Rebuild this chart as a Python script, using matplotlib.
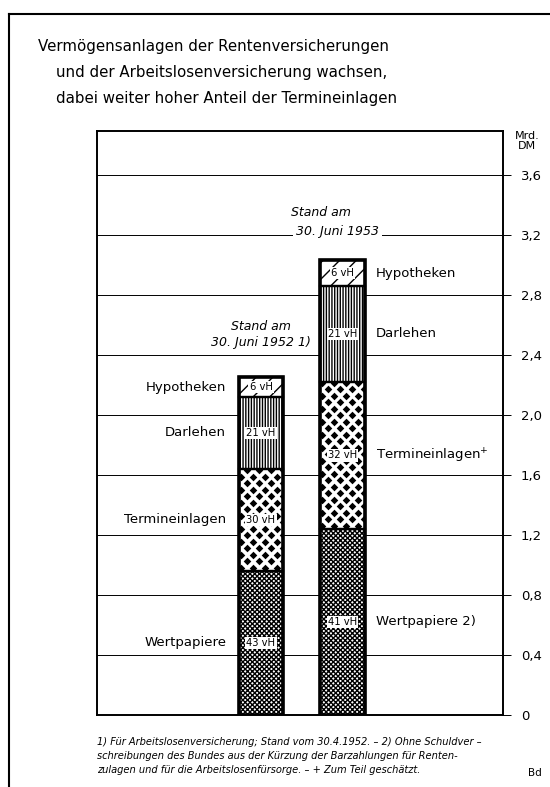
import matplotlib
matplotlib.use("Agg")
import matplotlib.pyplot as plt
from matplotlib.lines import Line2D
import numpy as np

# data (Mrd. DM), stacked bottom -> top
segments = ["Wertpapiere", "Termineinlagen", "Darlehen", "Hypotheken"]
stand_1952 = [0.96, 0.68, 0.48, 0.13]
stand_1953 = [1.24, 0.98, 0.64, 0.17]
pct_1952 = ["43 vH", "30 vH", "21 vH", "6 vH"]
pct_1953 = ["41 vH", "32 vH", "21 vH", "6 vH"]
labels_left = ["Wertpapiere", "Termineinlagen", "Darlehen", "Hypotheken"]
labels_right = ["Wertpapiere 2)", "Termineinlagen$^{+}$", "Darlehen", "Hypotheken"]
yticks = [0, 0.4, 0.8, 1.2, 1.6, 2.0, 2.4, 2.8, 3.2, 3.6]
ytick_labels = ["0", "0,4", "0,8", "1,2", "1,6", "2,0", "2,4", "2,8", "3,2", "3,6"]

hatches = {"Wertpapiere": "xxxxxxx", "Termineinlagen": None,
           "Darlehen": "||||||", "Hypotheken": "//"}

plt.rcParams["font.family"] = ["DejaVu Sans"]
plt.rcParams["hatch.linewidth"] = 1.0

fig = plt.figure(figsize=(5.5, 7.87), dpi=100)
ax = fig.add_axes([0.1764, 0.0915, 0.738, 0.742])
ax.set_xlim(-2.012, 2.969)
ax.set_ylim(0, 3.893)
width = 0.546


def diamonds(ax, x0, x1, y0, y1):
    # white field with black diamond dots, clipped to the segment
    inv = ax.transData.inverted()
    px = ax.transData.transform([(x0, y0), (x1, y1)])
    rows = np.arange(px[0][1] + 3, px[1][1] + 4, 6.5)
    pts = []
    for i, ry in enumerate(rows):
        off = 0 if i % 2 == 0 else 6
        for rx in np.arange(px[0][0] + 2 + off, px[1][0] + 6, 12):
            pts.append((rx, ry))
    pts = inv.transform(pts)
    rect = plt.Rectangle((x0, y0), x1 - x0, y1 - y0, transform=ax.transData)
    sc = ax.scatter(pts[:, 0], pts[:, 1], marker="D", s=15, color="black",
                    linewidths=0, zorder=3)
    sc.set_clip_path(rect)


for xi, vals, pcts, labs, side in [(0, stand_1952, pct_1952, labels_left, -1),
                                    (1, stand_1953, pct_1953, labels_right, 1)]:
    bottom = 0
    for seg, v, p, lab in zip(segments, vals, pcts, labs):
        h = hatches[seg]
        ax.bar(xi, v, width, bottom=bottom, color="white", edgecolor="black",
               hatch=h, linewidth=0, zorder=2)
        if h is None:
            diamonds(ax, xi - width / 2, xi + width / 2, bottom, bottom + v)
        ax.bar(xi, v, width, bottom=bottom, fill=False, edgecolor="black",
               linewidth=1.6, zorder=4)
        ymid = bottom + v / 2
        ax.text(xi, ymid, p, ha="center", va="center", fontsize=7.2, zorder=5,
                bbox=dict(boxstyle="square,pad=0.12", fc="white", ec="none"))
        if side < 0:
            ax.annotate(lab, xy=(xi - width / 2, ymid), xytext=(-9, 0),
                        textcoords="offset points", ha="right", va="center",
                        fontsize=9.5)
        else:
            ax.annotate(lab, xy=(xi + width / 2, ymid), xytext=(8, 0),
                        textcoords="offset points", ha="left", va="center",
                        fontsize=9.5)
        bottom += v

    ax.bar(xi, sum(vals), width, fill=False, edgecolor="black",
           linewidth=2.6, zorder=4)

# gridlines
for t in yticks[1:]:
    ax.axhline(t, color="black", linewidth=0.7, zorder=1)

ax.yaxis.tick_right()
ax.set_yticks(yticks)
ax.set_yticklabels(ytick_labels, fontsize=9.5)
ax.tick_params(axis="y", direction="out", length=6, width=0.7, pad=7)
ax.set_xticks([])
for s in ax.spines.values():
    s.set_linewidth(1.4)

ax.text(0, 2.59, "Stand am", style="italic", fontsize=9, ha="center", va="center")
ax.text(0, 2.48, "30. Juni 1952 1)", style="italic", fontsize=9, ha="center", va="center")
ax.text(0.73, 3.35, "Stand am", style="italic", fontsize=9, ha="center", va="center")
ax.text(0.94, 3.22, "30. Juni 1953", style="italic", fontsize=9, ha="center", va="center",
        bbox=dict(boxstyle="square,pad=0.25", fc="white", ec="none"))

fig.text(527 / 550, 1 - 141 / 787, "Mrd.\nDM", fontsize=8, ha="center", va="center",
         linespacing=0.95)

# title
fig.text(38 / 550, 1 - 47 / 787, "Vermögensanlagen der Rentenversicherungen",
         fontsize=10.8, va="center")
fig.text(56 / 550, 1 - 73 / 787, "und der Arbeitslosenversicherung wachsen,",
         fontsize=10.8, va="center")
fig.text(56 / 550, 1 - 99 / 787, "dabei weiter hoher Anteil der Termineinlagen",
         fontsize=10.8, va="center")

# footnote
foot = ["1) Für Arbeitslosenversicherung; Stand vom 30.4.1952. – 2) Ohne Schuldver –",
        "schreibungen des Bundes aus der Kürzung der Barzahlungen für Renten-",
        "zulagen und für die Arbeitslosenfürsorge. – + Zum Teil geschätzt."]
for i, line in enumerate(foot):
    fig.text(97 / 550, 1 - (742 + 14 * i) / 787, line, fontsize=7.1,
             style="italic", va="center")
fig.text(528 / 550, 1 - 773 / 787, "Bd", fontsize=7.5, va="center")

# outer frame
fig.add_artist(Line2D([9 / 550, 1.0], [1 - 14 / 787, 1 - 14 / 787],
                      color="black", linewidth=1.5))
fig.add_artist(Line2D([9 / 550, 9 / 550], [0, 1 - 14 / 787],
                      color="black", linewidth=1.5))

fig.savefig("out.png", dpi=100)
